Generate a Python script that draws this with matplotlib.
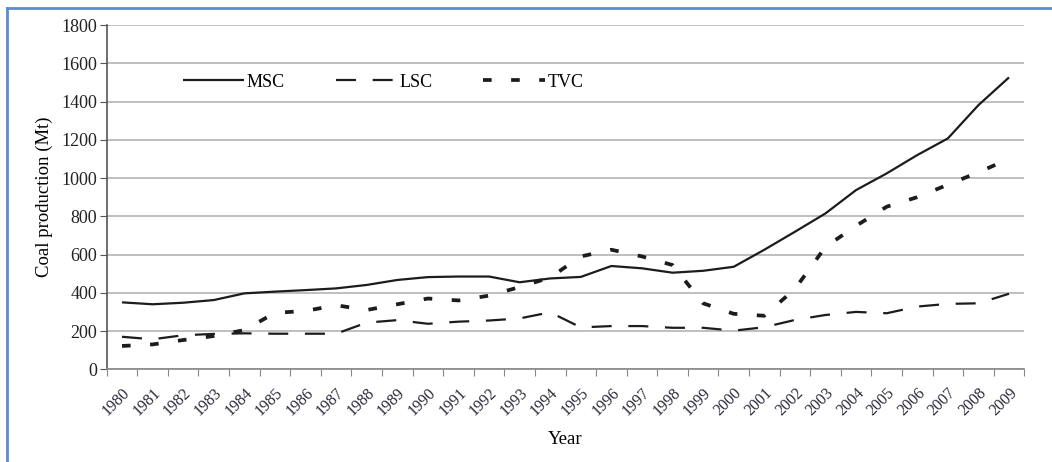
import numpy as np
import matplotlib
matplotlib.use('Agg')
import matplotlib.pyplot as plt
from matplotlib.lines import Line2D

# coal production by mine type (Mt)
years = [str(y) for y in range(1980, 2010)]
msc = [350, 340, 348, 362, 397, 406, 414, 423, 441, 467,
       482, 485, 485, 455, 475, 483, 540, 528, 505, 515,
       536, 625, 719, 815, 937, 1024, 1120, 1207, 1381, 1526]
lsc = [170, 157, 178, 185, 188, 186, 186, 186, 244, 257,
       238, 249, 255, 266, 298, 219, 226, 226, 217, 217,
       202, 220, 258, 284, 300, 293, 328, 342, 345, 395]
tvc = [122, 130, 153, 174, 205, 295, 305, 335, 310, 340,
       370, 360, 385, 430, 480, 590, 625, 590, 545, 345,
       290, 280, 420, 640, 750, 850, 900, 965, 1030, 1100]
series_names = ['MSC', 'LSC', 'TVC']
y_ticks = list(range(0, 1801, 200))

plt.rcParams['font.family'] = ['Liberation Serif', 'DejaVu Serif']

fig = plt.figure(figsize=(10.52, 4.62), dpi=100)
ax = fig.add_axes([106.7 / 1052, 1 - 369.3 / 462, 917.6 / 1052, 344.3 / 462])

x = np.arange(len(years))
ink = '#1c1c1c'
ax.plot(x, msc, color=ink, lw=1.6, solid_capstyle='butt', label=series_names[0])
ax.plot(x, lsc, color=ink, lw=1.6, dashes=(9, 7.5), label=series_names[1])
ax.plot(x, tvc, color=ink, lw=2.7, dashes=(2.3, 5.2), label=series_names[2])

ax.set_xlim(-0.5, len(years) - 0.5)
ax.set_ylim(0, 1800)
ax.set_yticks(y_ticks)
ax.set_yticklabels([str(v) for v in y_ticks], fontsize=13, color='#222222')
ax.yaxis.grid(True, color='#b4b4b4', lw=1.2)
ax.set_axisbelow(True)

# category boundaries carry the tick marks, centres carry the labels
ax.set_xticks(np.arange(-0.5, len(years), 1))
ax.set_xticklabels([])
ax.set_xticks(x, minor=True)
ax.set_xticklabels(years, minor=True, rotation=45, ha='right',
                   rotation_mode='anchor', fontsize=11.5, color='#2a2a3a')
ax.tick_params(axis='x', which='major', length=5, color='#888888', direction='out')
ax.tick_params(axis='x', which='minor', length=0, pad=11)
ax.tick_params(axis='y', length=5, color='#555555', direction='out', pad=2)

for side in ['top', 'right']:
    ax.spines[side].set_visible(False)
ax.spines['left'].set_color('#555555')
ax.spines['left'].set_linewidth(1.2)
ax.spines['bottom'].set_color('#888888')
ax.spines['bottom'].set_linewidth(1.2)

ax.set_xlabel('Year', fontsize=13.5, labelpad=9)
ax.set_ylabel('Coal production (Mt)', fontsize=13.5, labelpad=6)

ax.legend(loc='center left', bbox_to_anchor=(0.083, 0.834), ncol=3,
          frameon=False, fontsize=13, handlelength=3.4, handletextpad=0.15,
          columnspacing=2.8, borderpad=0, borderaxespad=0)

# blue frame (left and top edges only show)
blue = '#5b8dcc'
fig.add_artist(Line2D([7 / 1052, 7 / 1052], [0, 1 - 8 / 462], color=blue, lw=2))
fig.add_artist(Line2D([7 / 1052, 1], [1 - 8 / 462, 1 - 8 / 462], color=blue, lw=2))

fig.savefig('out.png', dpi=100)
